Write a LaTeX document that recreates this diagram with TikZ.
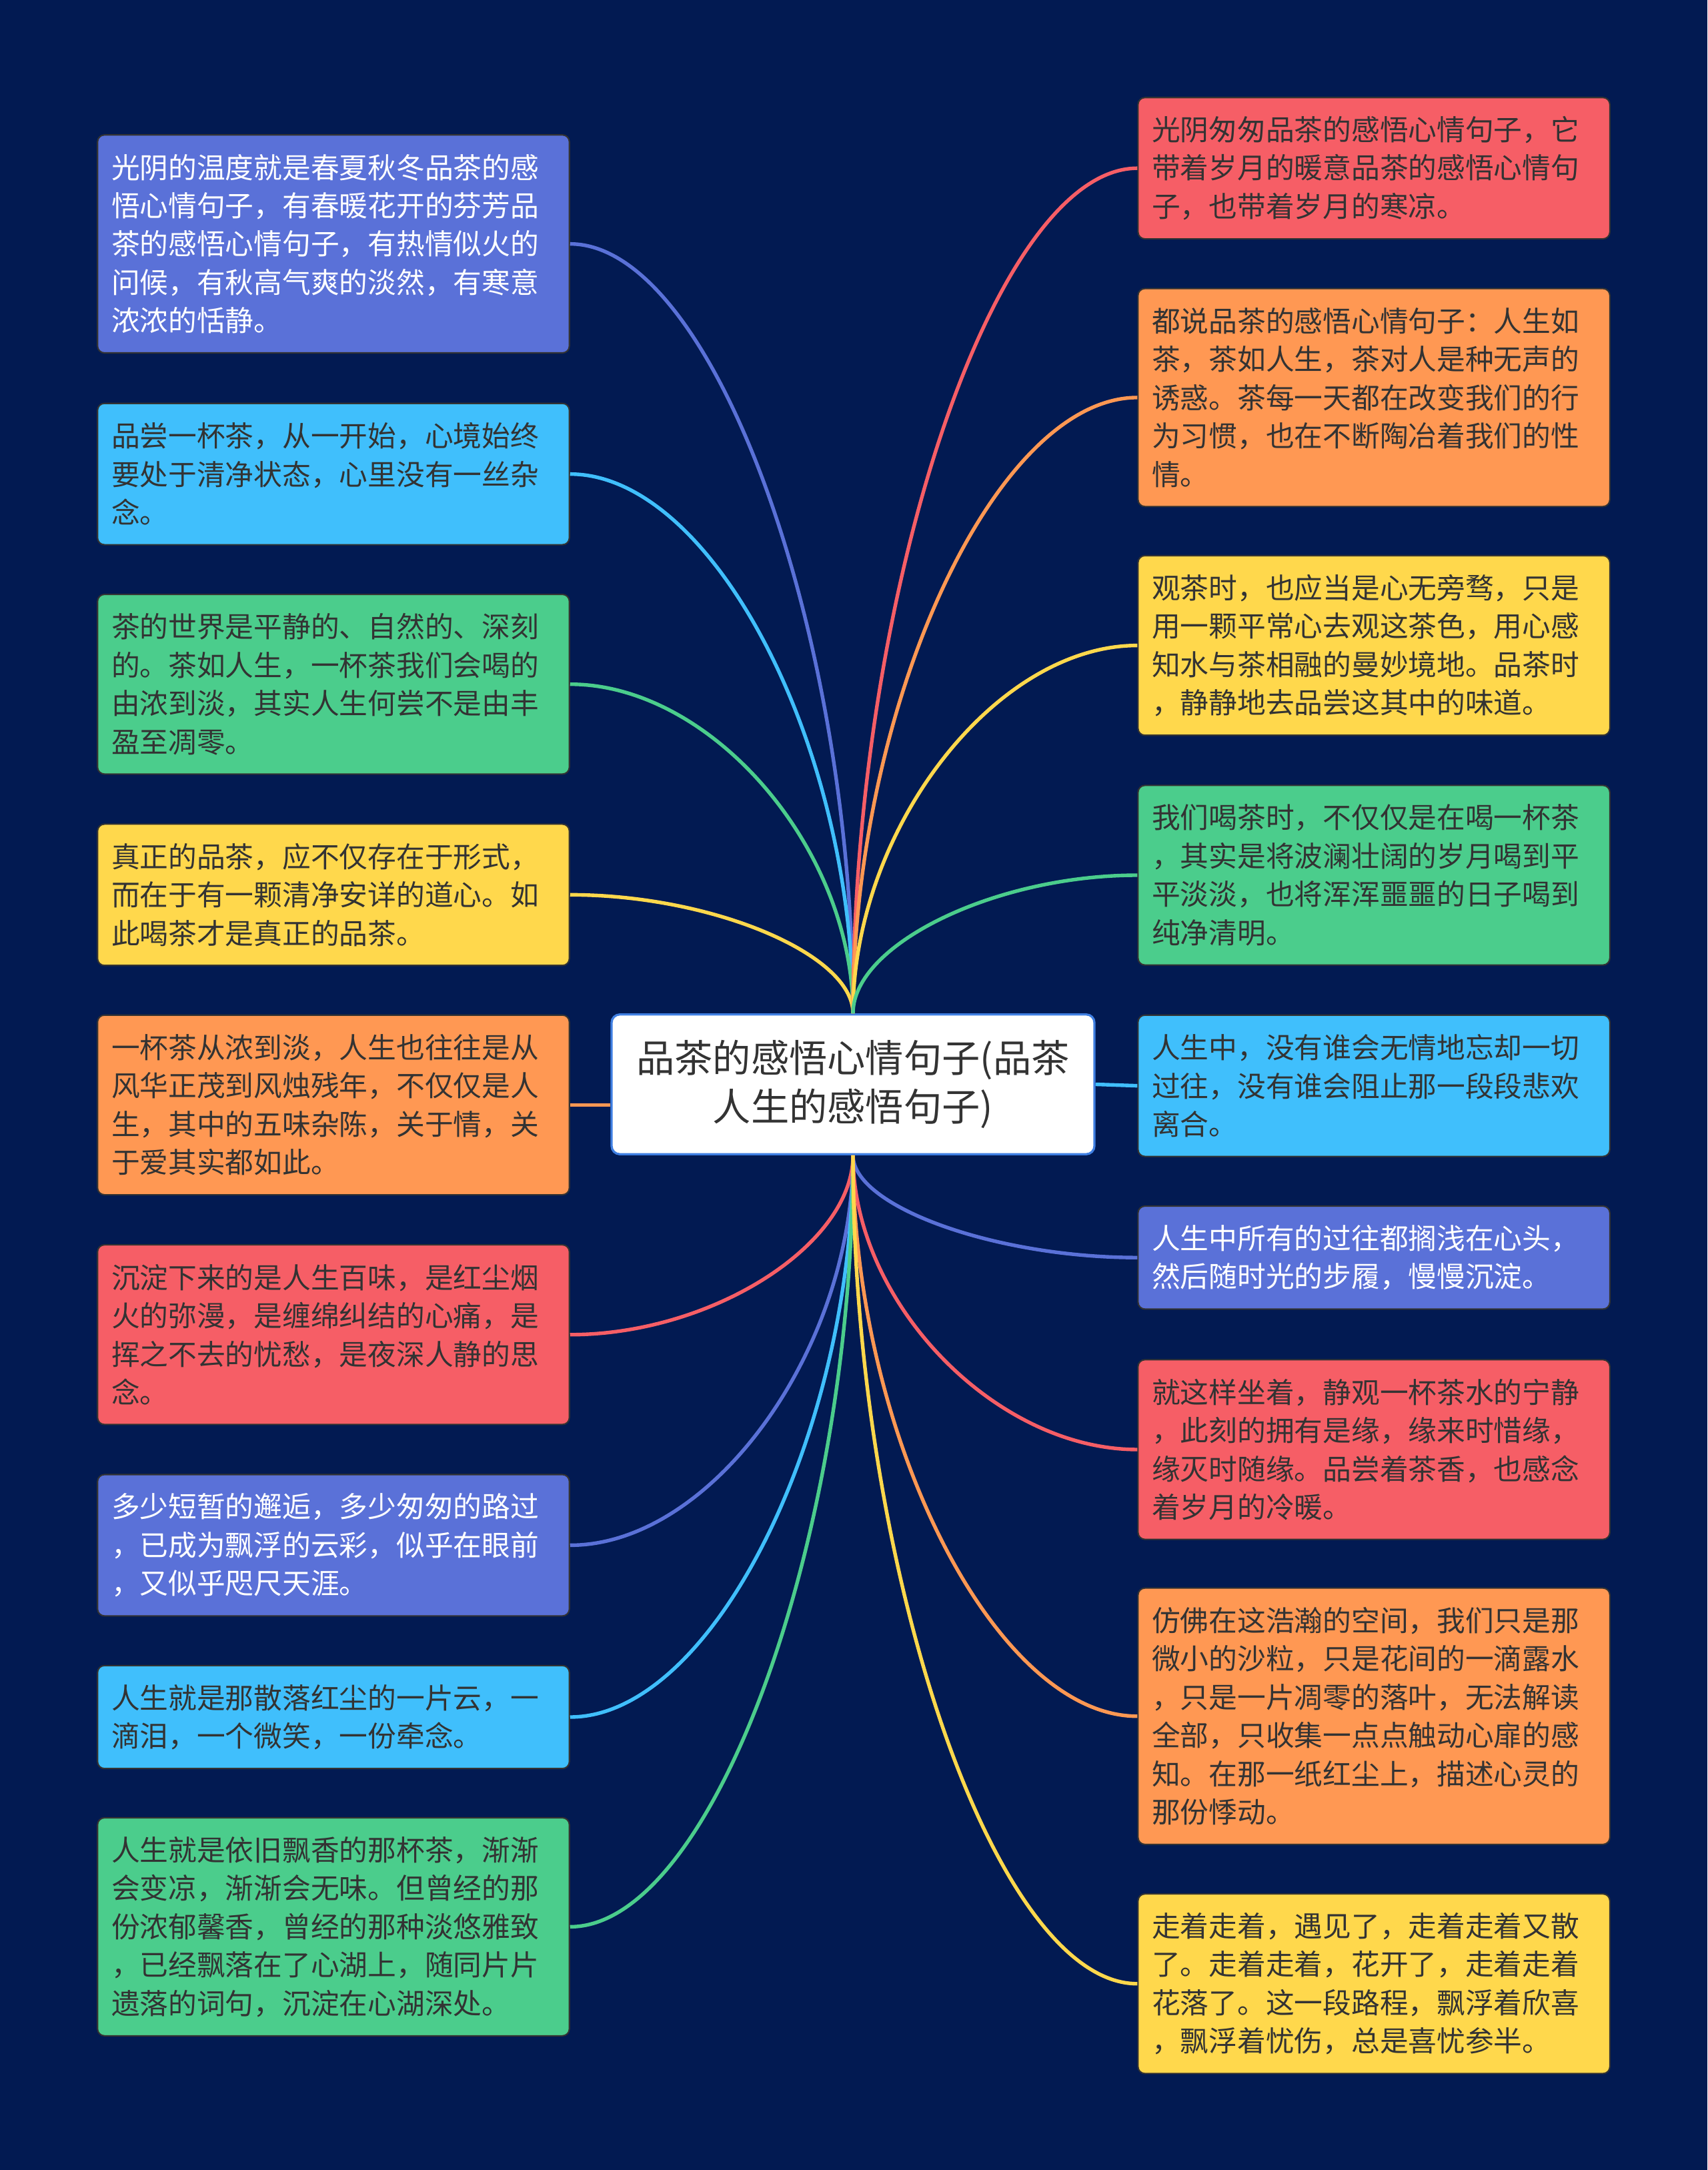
\documentclass[tikz,border=0pt]{standalone}
\usepackage{fontspec}
\usepackage{xcolor}
\usepackage{tikz}
\usetikzlibrary{calc}

\newfontfamily\cjk{Noto Sans CJK SC}

\definecolor{bgnavy}{HTML}{021A52}
\definecolor{cblue}{HTML}{5A71D8}
\definecolor{csky}{HTML}{40BFFC}
\definecolor{cgreen}{HTML}{4BCD8C}
\definecolor{cyellow}{HTML}{FFD84C}
\definecolor{corange}{HTML}{FF9853}
\definecolor{cred}{HTML}{F65E66}
\definecolor{cedge}{HTML}{3F7FE2}
\definecolor{txtdark}{HTML}{333333}

\begin{document}
\begin{tikzpicture}[x=0.5pt, y=-0.5pt,
    leaf/.style={draw=black!80, line width=0.5pt, rounded corners=2.5pt,
        anchor=north west, align=left, text width=160.5pt, inner xsep=5pt,
        inner ysep=0pt, text=txtdark,
        font=\cjk\fontsize{10.3pt}{13.85pt}\selectfont},
    rows/.style={minimum height={13.85pt*#1+9.5pt}},
    link/.style={line width=1.3pt},
    branch/.style={to path={.. controls ($(\tikztostart)!0.5!(\tikztostart|-\tikztotarget)$)
        and ($(\tikztotarget)!0.5!(\tikztostart|-\tikztotarget)$) .. (\tikztotarget)}}]
        % 背景
        \fill[bgnavy] (0,0) rectangle (1234,1568);

        % 中心主题
        \node[draw=cedge, line width=0.8pt, fill=white, rounded corners=3pt,
            minimum width=174.5pt, minimum height=50.5pt, align=center, text=txtdark,
            font=\cjk\fontsize{13.8pt}{17.8pt}\selectfont] (main) at (616.5,783.5)
            {品茶的感悟心情句子(品茶\\人生的感悟句子)};
        \coordinate (ct) at (main.north);
        \coordinate (cb) at (main.south);

        % 左侧分支
        \node[leaf, rows=5, fill=cblue, text=white] (l1) at (70,97)
            {光阴的温度就是春夏秋冬品茶的感\\悟心情句子，有春暖花开的芬芳品\\茶的感悟心情句子，有热情似火的\\问候，有秋高气爽的淡然，有寒意\\浓浓的恬静。};
        \node[leaf, rows=3, fill=csky] (l2) at (70,291)
            {品尝一杯茶，从一开始，心境始终\\要处于清净状态，心里没有一丝杂\\念。};
        \node[leaf, rows=4, fill=cgreen] (l3) at (70,429)
            {茶的世界是平静的、自然的、深刻\\的。茶如人生，一杯茶我们会喝的\\由浓到淡，其实人生何尝不是由丰\\盈至凋零。};
        \node[leaf, rows=3, fill=cyellow] (l4) at (70,595)
            {真正的品茶，应不仅存在于形式，\\而在于有一颗清净安详的道心。如\\此喝茶才是真正的品茶。};
        \node[leaf, rows=4, fill=corange] (l5) at (70,733)
            {一杯茶从浓到淡，人生也往往是从\\风华正茂到风烛残年，不仅仅是人\\生，其中的五味杂陈，关于情，关\\于爱其实都如此。};
        \node[leaf, rows=4, fill=cred] (l6) at (70,899)
            {沉淀下来的是人生百味，是红尘烟\\火的弥漫，是缠绵纠结的心痛，是\\挥之不去的忧愁，是夜深人静的思\\念。};
        \node[leaf, rows=3, fill=cblue, text=white] (l7) at (70,1065)
            {多少短暂的邂逅，多少匆匆的路过\\，已成为飘浮的云彩，似乎在眼前\\，又似乎咫尺天涯。};
        \node[leaf, rows=2, fill=csky] (l8) at (70,1203)
            {人生就是那散落红尘的一片云，一\\滴泪，一个微笑，一份牵念。};
        \node[leaf, rows=5, fill=cgreen] (l9) at (70,1313)
            {人生就是依旧飘香的那杯茶，渐渐\\会变凉，渐渐会无味。但曾经的那\\份浓郁馨香，曾经的那种淡悠雅致\\，已经飘落在了心湖上，随同片片\\遗落的词句，沉淀在心湖深处。};

        % 右侧分支
        \node[leaf, rows=3, fill=cred] (r1) at (822,70)
            {光阴匆匆品茶的感悟心情句子，它\\带着岁月的暖意品茶的感悟心情句\\子，也带着岁月的寒凉。};
        \node[leaf, rows=5, fill=corange] (r2) at (822,208)
            {都说品茶的感悟心情句子：人生如\\茶，茶如人生，茶对人是种无声的\\诱惑。茶每一天都在改变我们的行\\为习惯，也在不断陶冶着我们的性\\情。};
        \node[leaf, rows=4, fill=cyellow] (r3) at (822,401)
            {观茶时，也应当是心无旁骛，只是\\用一颗平常心去观这茶色，用心感\\知水与茶相融的曼妙境地。品茶时\\，静静地去品尝这其中的味道。};
        \node[leaf, rows=4, fill=cgreen] (r4) at (822,567)
            {我们喝茶时，不仅仅是在喝一杯茶\\，其实是将波澜壮阔的岁月喝到平\\平淡淡，也将浑浑噩噩的日子喝到\\纯净清明。};
        \node[leaf, rows=3, fill=csky] (r5) at (822,733)
            {人生中，没有谁会无情地忘却一切\\过往，没有谁会阻止那一段段悲欢\\离合。};
        \node[leaf, rows=2, fill=cblue, text=white] (r6) at (822,871)
            {人生中所有的过往都搁浅在心头，\\然后随时光的步履，慢慢沉淀。};
        \node[leaf, rows=4, fill=cred] (r7) at (822,982)
            {就这样坐着，静观一杯茶水的宁静\\，此刻的拥有是缘，缘来时惜缘，\\缘灭时随缘。品尝着茶香，也感念\\着岁月的冷暖。};
        \node[leaf, rows=6, fill=corange] (r8) at (822,1147)
            {仿佛在这浩瀚的空间，我们只是那\\微小的沙粒，只是花间的一滴露水\\，只是一片凋零的落叶，无法解读\\全部，只收集一点点触动心扉的感\\知。在那一纸红尘上，描述心灵的\\那份悸动。};
        \node[leaf, rows=4, fill=cyellow] (r9) at (822,1368)
            {走着走着，遇见了，走着走着又散\\了。走着走着，花开了，走着走着\\花落了。这一段路程，飘浮着欣喜\\，飘浮着忧伤，总是喜忧参半。};

        % 连线（上方）
        \draw[link, cblue] (ct) to[branch] (l1.east);
        \draw[link, csky] (ct) to[branch] (l2.east);
        \draw[link, cgreen] (ct) to[branch] (l3.east);
        \draw[link, cyellow] (ct) to[branch] (l4.east);
        \draw[link, cred] (ct) to[branch] (r1.west);
        \draw[link, corange] (ct) to[branch] (r2.west);
        \draw[link, cyellow] (ct) to[branch] (r3.west);
        \draw[link, cgreen] (ct) to[branch] (r4.west);

        % 连线（水平）
        \draw[link, corange] (l5.east) -- (l5.east -| main.west);
        \draw[link, csky] (main.east) -- (r5.west);

        % 连线（下方）
        \draw[link, cred] (cb) to[branch] (l6.east);
        \draw[link, cblue] (cb) to[branch] (l7.east);
        \draw[link, csky] (cb) to[branch] (l8.east);
        \draw[link, cgreen] (cb) to[branch] (l9.east);
        \draw[link, cblue] (cb) to[branch] (r6.west);
        \draw[link, cred] (cb) to[branch] (r7.west);
        \draw[link, corange] (cb) to[branch] (r8.west);
        \draw[link, cyellow] (cb) to[branch] (r9.west);
    \end{tikzpicture}
\end{document}
